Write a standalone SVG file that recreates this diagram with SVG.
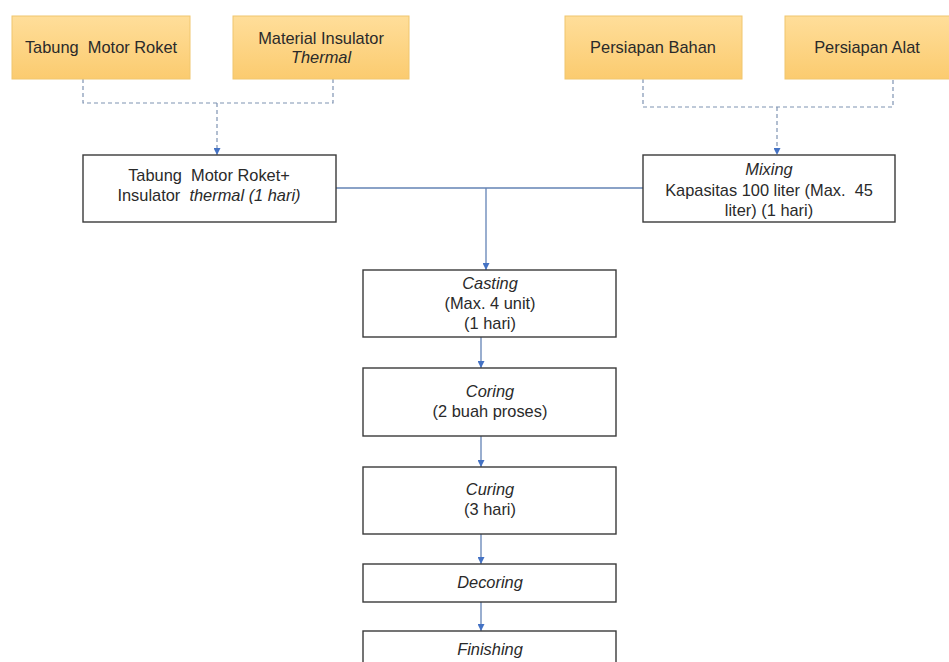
<svg xmlns="http://www.w3.org/2000/svg" width="949" height="662" viewBox="0 0 949 662" xml:space="preserve">
<defs>
<linearGradient id="gold" x1="0" y1="0" x2="0" y2="1">
<stop offset="0" stop-color="#FFDE9A"/>
<stop offset="1" stop-color="#FBCB6F"/>
</linearGradient>
<marker id="arr" viewBox="0 0 10 10" refX="10" refY="5" markerWidth="7" markerHeight="7" markerUnits="userSpaceOnUse" orient="auto">
<path d="M0,0 L10,5 L0,10 z" fill="#4472C4"/>
</marker>
</defs>
<style>
text{font-family:"Liberation Sans",Arial,sans-serif;font-size:16.4px;fill:#2a2a2a;text-anchor:middle;white-space:pre}
.i{font-style:italic}
.src{fill:url(#gold);stroke:#F0C66E;stroke-width:1}
.box{fill:#ffffff;stroke:#3a3a3a;stroke-width:1.4}
.dash{fill:none;stroke:#7F93B2;stroke-width:1.2;stroke-dasharray:4 3}
.solid{fill:none;stroke:#6383B5;stroke-width:1.3}
</style>
<rect width="949" height="662" fill="#ffffff"/>
<g id="connectors">
<path class="dash" d="M83,79 V103 H333 V79"/>
<path class="dash" d="M217,103 V155" marker-end="url(#arr)"/>
<path class="dash" d="M643,79 V107 H893 V79"/>
<path class="dash" d="M777,107 V155" marker-end="url(#arr)"/>
<path class="solid" d="M336,188 H643"/>
<path class="solid" d="M486,188 V270" marker-end="url(#arr)"/>
<path class="solid" d="M481,337 V368" marker-end="url(#arr)"/>
<path class="solid" d="M481,436 V467" marker-end="url(#arr)"/>
<path class="solid" d="M481,534 V564" marker-end="url(#arr)"/>
<path class="solid" d="M481,602 V631" marker-end="url(#arr)"/>
</g>
<g id="tabung-motor-roket">
<rect class="src" x="12" y="16" width="178" height="63"/>
<text x="101" y="53">Tabung  Motor Roket</text>
</g>
<g id="material-insulator">
<rect class="src" x="233" y="16" width="176" height="63"/>
<text x="321" y="44">Material Insulator</text>
<text x="321" y="63" class="i">Thermal</text>
</g>
<g id="persiapan-bahan">
<rect class="src" x="565" y="16" width="177" height="63"/>
<text x="653" y="53">Persiapan Bahan</text>
</g>
<g id="persiapan-alat">
<rect class="src" x="785" y="16" width="170" height="63"/>
<text x="867" y="53">Persiapan Alat</text>
</g>
<g id="tabung-insulator">
<rect class="box" x="83" y="155" width="253" height="67"/>
<text x="209" y="181">Tabung  Motor Roket+</text>
<text x="209" y="201">Insulator  <tspan class="i">thermal (1 hari)</tspan></text>
</g>
<g id="mixing">
<rect class="box" x="643" y="155" width="252" height="67"/>
<text x="769" y="175" class="i">Mixing</text>
<text x="769" y="196">Kapasitas 100 liter (Max.  45</text>
<text x="769" y="216">liter) (1 hari)</text>
</g>
<g id="casting">
<rect class="box" x="363" y="270" width="253" height="67"/>
<text x="490" y="289" class="i">Casting</text>
<text x="490" y="309">(Max. 4 unit)</text>
<text x="490" y="329">(1 hari)</text>
</g>
<g id="coring">
<rect class="box" x="363" y="368" width="253" height="68"/>
<text x="490" y="397" class="i">Coring</text>
<text x="490" y="417">(2 buah proses)</text>
</g>
<g id="curing">
<rect class="box" x="363" y="467" width="253" height="67"/>
<text x="490" y="495" class="i">Curing</text>
<text x="490" y="515">(3 hari)</text>
</g>
<g id="decoring">
<rect class="box" x="363" y="564" width="253" height="38"/>
<text x="490" y="588" class="i">Decoring</text>
</g>
<g id="finishing">
<rect class="box" x="363" y="631" width="253" height="40"/>
<text x="490" y="655" class="i">Finishing</text>
</g>
</svg>
